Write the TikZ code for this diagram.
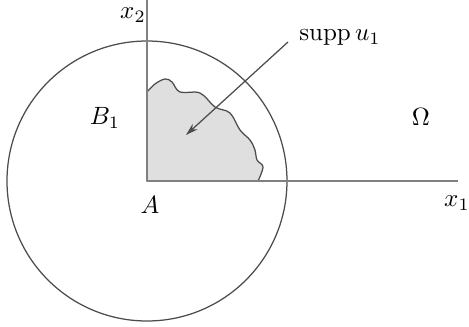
\documentclass[tikz,border=0pt]{standalone}
\usetikzlibrary{arrows.meta}

\begin{document}
\begin{tikzpicture}[
    x=0.4pt, y=0.4pt,
    axis/.style={draw=gray, line width=0.7pt},
    ball/.style={draw=gray!60!black, line width=0.5pt},
    supp/.style={fill=gray!25, draw=gray!60!black, line width=0.5pt},
    pointer/.style={-{Stealth[length=5pt,width=3pt]}, draw=gray!60!black, line width=0.5pt},
    lbl/.style={inner sep=1pt}
]
\useasboundingbox (-147,-146) rectangle (322,181);

\coordinate (A0) at (0,0);

% support of u_1
\path[supp] (A0) -- (0,89)
    -- plot[smooth, tension=0.6] coordinates {(0,89) (8,97) (18,102) (25,99) (33,89)
      (53,88) (68,74) (83,68) (93,51) (103,41) (108,31) (110,21) (116,14) (111,0)}
    -- cycle;

% ball B_1
\draw[ball] (A0) circle (140);

% axes
\coordinate (x1end) at (311,0);
\coordinate (x2end) at (0,181);
\draw[axis] (A0) -- (x1end);
\draw[axis] (A0) -- (x2end);

\node[lbl] (x2) at (-14,166) {$x_2$};
\node[lbl] (x1) at (310,-22) {$x_1$};
\node[lbl] (A)  at (3,-24)   {$A$};
\node[lbl] (B1) at (-42,63)  {$B_1$};
\node[lbl] (Om) at (274,64)  {$\Omega$};
\node[lbl] (su) at (193,143) {$\mathrm{supp}\, u_1$};

\coordinate (tail) at (141,139);
\coordinate (tip)  at (39,46);
\draw[pointer] (tail) -- (tip);

\end{tikzpicture}
\end{document}
